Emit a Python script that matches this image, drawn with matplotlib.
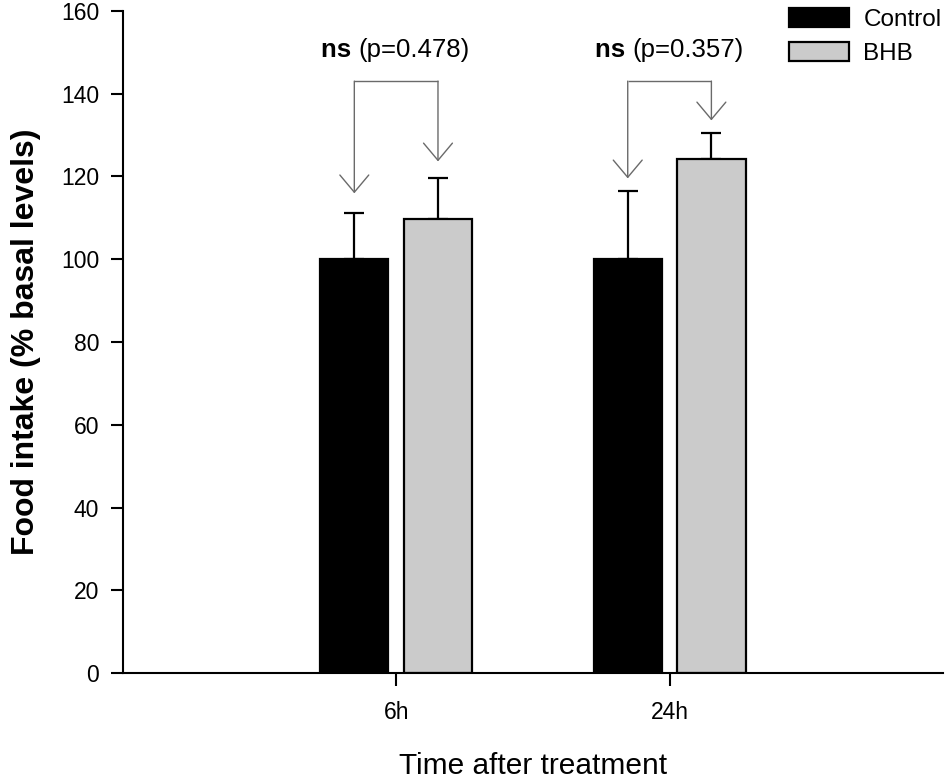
import matplotlib
matplotlib.use("Agg")
import matplotlib.pyplot as plt
import numpy as np

plt.rcParams['font.family'] = ['Liberation Sans', 'DejaVu Sans']

categories = ["6h", "24h"]
groups = ["Control", "BHB"]
control_mean = [100.0, 100.0]
control_err = [11.1, 16.4]
bhb_mean = [109.6, 124.3]
bhb_err = [10.0, 6.1]
bracket_top = [143.0, 143.0]
arrow_tip_control = [115.9, 119.5]
arrow_tip_bhb = [123.6, 133.5]
sig_labels = ["ns", "ns"]
p_labels = ["(p=0.478)", "(p=0.357)"]
label_y = [150.6, 150.6]

fig = plt.figure(figsize=(9.5, 7.8), dpi=100)
ax = fig.add_axes([0.1292, 0.1368, 0.9926 - 0.1292, 0.9863 - 0.1368])

x = np.arange(1, len(categories) + 1)
w = 0.25
off = 0.153
xc = x - off
xb = x + off

ax.bar(xc, control_mean, w, color="black", edgecolor="black", linewidth=1.6,
       label=groups[0], zorder=2)
ax.bar(xb, bhb_mean, w, color="#cbcbcb", edgecolor="black", linewidth=1.6,
       label=groups[1], zorder=2)
ax.errorbar(xc, control_mean, yerr=[np.zeros(2), control_err], fmt="none",
            ecolor="black", elinewidth=1.6, capsize=7.5, capthick=1.6, zorder=1)
ax.errorbar(xb, bhb_mean, yerr=[np.zeros(2), bhb_err], fmt="none",
            ecolor="black", elinewidth=1.6, capsize=7.5, capthick=1.6, zorder=1)

lc = "#6a6a6a"
for i in range(len(categories)):
    ax.plot([xc[i], xb[i]], [bracket_top[i], bracket_top[i]], color=lc, lw=1.0,
            solid_capstyle="butt")
    for xx, tip in ((xc[i], arrow_tip_control[i]), (xb[i], arrow_tip_bhb[i])):
        ax.annotate("", xy=(xx, tip), xytext=(xx, bracket_top[i]),
                    arrowprops=dict(arrowstyle="->,head_length=0.62,head_width=0.52",
                                    color=lc, lw=1.0, shrinkA=0, shrinkB=0,
                                    mutation_scale=20))
    ax.annotate(sig_labels[i] + " ", xy=(x[i], label_y[i]), ha="right", va="center",
                fontsize=18.5, fontweight="bold", xytext=(-27, 0),
                textcoords="offset points")
    ax.annotate(p_labels[i], xy=(x[i], label_y[i]), ha="left", va="center",
                fontsize=18.5, xytext=(-27, 0), textcoords="offset points")

ax.set_xlim(0, 3)
ax.set_ylim(0, 160)
ax.set_xticks(x)
ax.set_xticklabels(categories)
ax.set_yticks(np.arange(0, 161, 20))
ax.tick_params(axis="both", labelsize=16.5, direction="out", length=9, width=1.5, pad=8)
ax.tick_params(axis="x", pad=11)
ax.spines["top"].set_visible(False)
ax.spines["right"].set_visible(False)
ax.spines["left"].set_linewidth(1.5)
ax.spines["bottom"].set_linewidth(1.5)

ax.set_ylabel("Food intake (% basal levels)", fontsize=23, fontweight="bold", labelpad=14)
ax.set_xlabel("Time after treatment", fontsize=21.5, labelpad=20)

leg = ax.legend(loc="upper left", bbox_to_anchor=(0.812, 1.004), frameon=False,
                fontsize=17.5, handlelength=2.47, handleheight=0.82,
                labelspacing=0.45, handletextpad=0.6, borderaxespad=0, borderpad=0)

fig.savefig("out.png", dpi=100)
